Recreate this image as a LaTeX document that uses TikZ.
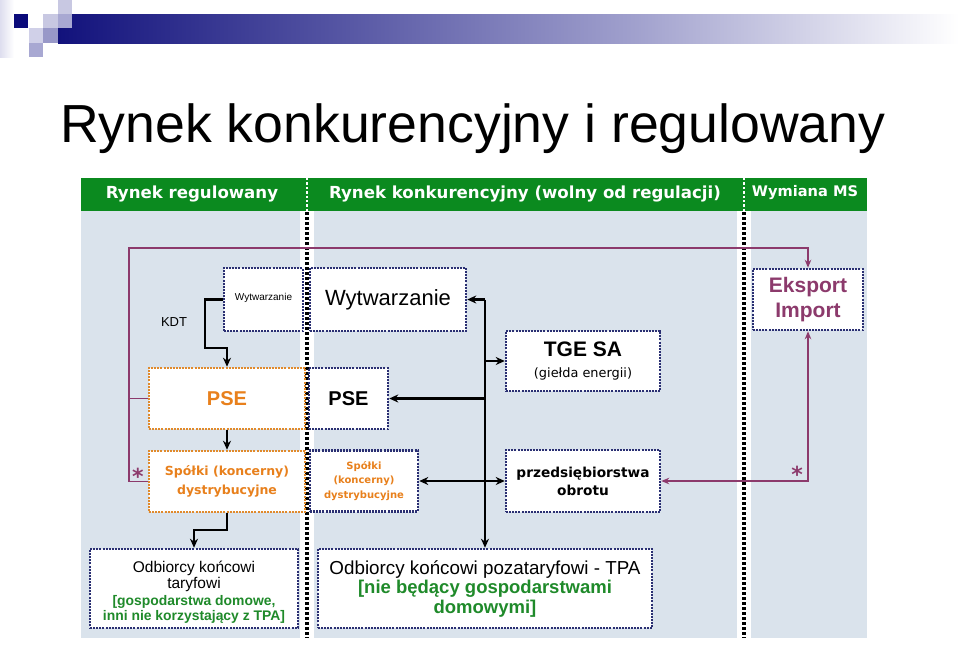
\documentclass[tikz,border=0pt]{standalone}
\usepackage{fontspec}
\setmainfont{Liberation Sans}
\newfontfamily\dvs{DejaVu Sans}
\usetikzlibrary{arrows.meta}
\definecolor{navyB}{HTML}{2A2F72}
\definecolor{orB}{HTML}{E08A2C}
\definecolor{orT}{HTML}{E8801C}
\definecolor{purp}{HTML}{8C3A6C}
\definecolor{hdr}{HTML}{0B8A1F}
\definecolor{grT}{HTML}{1F8A2A}
\definecolor{bgc}{HTML}{DAE3EC}
\definecolor{navyL}{HTML}{0A0A7A}
\definecolor{barA}{HTML}{12127C}
\definecolor{barB}{HTML}{5A5AA6}
\definecolor{barC}{HTML}{A2A2CE}
\definecolor{sqA}{HTML}{C8C8E2}
\definecolor{sqB}{HTML}{A8A8D2}
\definecolor{sqC}{HTML}{9898C8}
\definecolor{sqD}{HTML}{D0D0E8}
\begin{document}
\begin{tikzpicture}[x=1pt,y=-1pt,
  nbox/.style={draw=navyB,fill=white,line width=2.5pt,dash pattern=on 2pt off 1.1pt,inner sep=0pt,align=center},
  obox/.style={draw=orB,fill=white,line width=2.5pt,dash pattern=on 2pt off 1.1pt,inner sep=0pt,align=center},
  divl/.style={draw=black,line width=3.4pt,dash pattern=on 3pt off 2pt},
  hdiv/.style={draw=white,line width=2.6pt,dash pattern=on 2.4pt off 2pt},
  barr/.style={draw=black,line width=2.2pt,-{Stealth[length=9pt,width=8pt]}},
  bboth/.style={draw=black,line width=2.2pt,{Stealth[length=9pt,width=8pt]}-{Stealth[length=9pt,width=8pt]}},
  pline/.style={draw=purp,line width=1.6pt},
  parr/.style={draw=purp,line width=1.6pt,-{Stealth[length=8pt,width=6.5pt]}},
  pboth/.style={draw=purp,line width=1.6pt,{Stealth[length=8pt,width=6.5pt]}-{Stealth[length=8pt,width=6.5pt]}},
  htxt/.style={text=white,font=\dvs\bfseries\fontsize{16.6}{20}\selectfont,inner sep=0pt},
  star/.style={text=purp,font=\dvs\bfseries\fontsize{22}{24}\selectfont,inner sep=0pt}]
\useasboundingbox (0,0) rectangle (959,645);
\fill[white] (0,0) rectangle (959,645);
% logo and bar
\shade[left color=sqD!70,right color=white] (0,0) rectangle (14,57);
\shade[left color=barA,right color=barB] (58,14) rectangle (360,43);
\shade[left color=barB,right color=barC] (359,14) rectangle (640,43);
\shade[left color=barC,right color=white] (639,14) rectangle (959,43);
\fill[navyL] (14,14) rectangle (28,28);
\fill[sqA] (58,0) rectangle (72,14);
\fill[sqA] (43,14) rectangle (58,28);
\fill[sqB] (58,14) rectangle (72,28);
\fill[sqD] (29,28) rectangle (43,43);
\fill[sqC] (43,28) rectangle (58,43);
\fill[sqB] (29,43) rectangle (43,57);
% title
\node[anchor=base west,inner sep=0pt,font=\fontsize{53.6}{60}\selectfont] (title) at (60,142) {Rynek konkurencyjny i regulowany};
% background and header
\fill[bgc] (81,211) rectangle (867,638);
\fill[hdr] (81,178) rectangle (867,211);
\fill[white] (300,211) rectangle (314,638);
\fill[white] (737,211) rectangle (751,638);
\draw[divl] (307,212) -- (307,638);
\draw[divl] (744,212) -- (744,638);
\draw[hdiv] (307,178) -- (307,211);
\draw[hdiv] (744,178) -- (744,211);
\node[htxt] (h1) at (192,194) {Rynek regulowany};
\node[htxt] (h2) at (525,194) {Rynek konkurencyjny (wolny od regulacji)};
\node[htxt,font=\dvs\bfseries\fontsize{14.6}{18}\selectfont] (h3) at (805,193) {Wymiana MS};
% boxes
\node[nbox,minimum width=79pt,minimum height=63pt,font=\fontsize{10}{12}\selectfont] (wl) at (263.5,299.5) {Wytwarzanie\rule[-6pt]{0pt}{6pt}};
\node[nbox,minimum width=156pt,minimum height=63pt,font=\fontsize{22}{26}\selectfont] (wm) at (388,299.5) {Wytwarzanie};
\node[obox,minimum width=156pt,minimum height=61pt,text=orT,font=\bfseries\fontsize{20}{24}\selectfont] (pseo) at (227,398.5) {PSE};
\node[nbox,minimum width=79pt,minimum height=61pt,font=\bfseries\fontsize{20}{24}\selectfont] (psm) at (348.5,398.5) {PSE};
\node[obox,minimum width=156pt,minimum height=61pt,text=orT,font=\dvs\bfseries\fontsize{12.5}{19}\selectfont] (spo) at (227,481.5) {Spółki (koncerny)\\dystrybucyjne};
\node[nbox,minimum width=108pt,minimum height=61pt,text=orT,font=\dvs\bfseries\fontsize{10}{14.5}\selectfont] (spm) at (364,481) {Spółki\\(koncerny)\\dystrybucyjne};
\node[nbox,minimum width=154pt,minimum height=60pt,font=\bfseries\fontsize{21}{21.5}\selectfont] (tge) at (583,361) {TGE SA\\{\dvs\mdseries\fontsize{12.9}{15}\selectfont (giełda energii)}};
\node[nbox,minimum width=154pt,minimum height=62pt,font=\dvs\bfseries\fontsize{13.7}{18}\selectfont] (prz) at (583,481) {przedsiębiorstwa\\obrotu};
\node[nbox,minimum width=110pt,minimum height=61pt,text=purp,font=\bfseries\fontsize{21}{25}\selectfont] (eks) at (808,299.5) {Eksport\\Import};
\node[nbox,minimum width=208pt,minimum height=79pt,font=\fontsize{15.5}{15.5}\selectfont] (odt) at (194,588.5) {\rule{0pt}{19pt}Odbiorcy końcowi\\taryfowi\\[1.5pt]{\color{grT}\bfseries\fontsize{13.9}{15.5}\selectfont [gospodarstwa domowe,}\\{\color{grT}\bfseries\fontsize{13.9}{15.5}\selectfont inni nie korzystający z TPA]}};
\node[nbox,minimum width=334pt,minimum height=79pt,font=\fontsize{18.8}{19.5}\selectfont] (ozt) at (485,588.5) {Odbiorcy końcowi pozataryfowi - TPA\\{\color{grT}\bfseries\fontsize{18.5}{19.5}\selectfont [nie będący gospodarstwami}\\{\color{grT}\bfseries\fontsize{18.5}{19.5}\selectfont domowymi]}};
% labels
\node[inner sep=0pt,font=\fontsize{13}{15}\selectfont] (kdt) at (174,322) {KDT};
\node[star] (s1) at (138,476) {*};
\node[star] (s2) at (797,474) {*};
% black connectors
\coordinate (k1) at (205,348);
\coordinate (k2) at (227,530);
\draw[barr] (wl.west) -| (k1) -| (pseo.north);
\draw[barr] (pseo.south) -- (spo.north);
\draw[barr] (spo.south) -- (k2) -| (odt.north);
\draw[barr] (ozt.north |- wm.east) -- (ozt.north);
\draw[barr] (ozt.north |- wm.east) -- (wm.east);
\draw[barr] (ozt.north |- tge.west) -- (tge.west);
\draw[barr] (ozt.north |- psm.east) -- (psm.east);
\draw[bboth] (spm.east) -- (prz.west);
% purple connectors
\coordinate (p1) at (129,248);
\draw[parr] (spo.west) -| (p1) -| (eks.north);
\draw[pline] (pseo.west) -- (pseo.west -| p1);
\draw[pboth] (eks.south) |- (prz.east);
\end{tikzpicture}
\end{document}
